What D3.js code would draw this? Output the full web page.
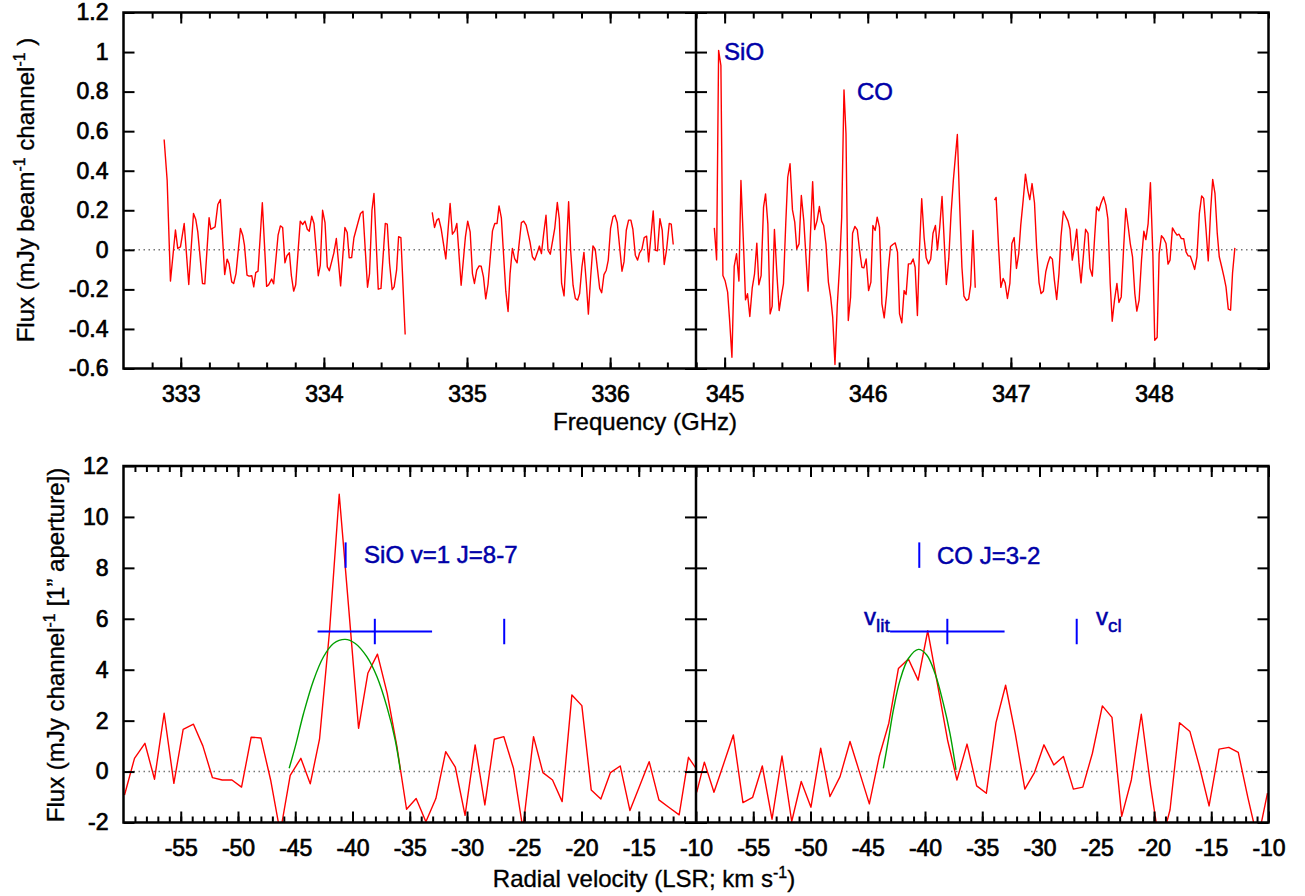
<!DOCTYPE html>
<html>
<head>
<meta charset="utf-8">
<script src="https://cdn.jsdelivr.net/npm/d3@7"></script>
<style>
  body { margin: 0; background: #fff; }
  svg { font-family: "Liberation Sans", Arial, Helvetica, sans-serif; }
  .axes line { stroke: #000; stroke-width: 2; }
  .axes text { font-size: 23px; fill: #000; stroke: #000; stroke-width: 0.7px; }
  .title { font-size: 24px; fill: #000; stroke: #000; stroke-width: 0.35px; }
  .note { font-size: 24px; fill: #0000a8; stroke: #0000a8; stroke-width: 0.5px; }
</style>
</head>
<body>
<div id="chart"></div>
<script>
// ---- top panel: spectrum, left sideband (GHz, mJy/beam/channel)
const freqA = [332.884,332.905,332.928,332.963,332.979,332.998,333.024,333.056,333.089,333.105,
  333.119,333.152,333.168,333.198,333.210,333.240,333.259,333.277,333.307,333.324,
  333.338,333.356,333.370,333.386,333.417,333.433,333.445,333.463,333.477,333.496,
  333.510,333.524,333.540,333.570,333.600,333.614,333.635,333.649,333.680,333.696,
  333.712,333.728,333.742,333.759,333.773,333.789,333.803,333.835,333.852,333.868,
  333.884,333.898,333.915,333.931,333.961,333.975,333.991,334.008,334.024,334.038,
  334.054,334.070,334.087,334.117,334.147,334.163,334.177,334.194,334.210,334.240,
  334.256,334.273,334.305,334.319,334.336,334.350,334.380,334.399,334.429,334.443,
  334.459,334.477,334.491,334.508,334.522,334.538,334.568];
const fluxA = [0.558,0.352,-0.158,0.10,0.007,0.015,0.133,-0.175,0.184,0.153,
  0.091,-0.170,-0.172,0.163,0.104,0.116,0.229,0.254,-0.125,-0.047,
  -0.072,-0.162,-0.170,-0.120,0.108,0.074,0.024,-0.128,-0.133,-0.131,
  -0.187,-0.115,-0.108,0.238,-0.185,-0.177,-0.148,-0.172,0.074,0.121,
  0.113,-0.066,-0.030,-0.015,-0.131,-0.209,-0.177,0.145,0.128,0.145,
  0.104,0.094,0.170,0.133,-0.131,-0.078,0.200,0.137,-0.086,-0.106,
  -0.061,-0.015,0.057,-0.182,0.113,0.088,-0.040,-0.039,0.061,0.142,
  0.184,0.195,-0.189,-0.120,0.200,0.285,-0.199,-0.195,0.133,0.130,
  -0.069,-0.201,-0.187,-0.103,0.066,0.062,-0.428];

const freqB = [334.757,334.773,334.789,334.803,334.819,334.852,334.882,334.898,334.915,334.929,
  334.959,334.989,335.005,335.022,335.038,335.052,335.068,335.085,335.099,335.115,
  335.131,335.147,335.178,335.194,335.210,335.224,335.240,335.271,335.287,335.301,
  335.317,335.333,335.350,335.380,335.396,335.413,335.440,335.457,335.473,335.489,
  335.506,335.520,335.536,335.552,335.566,335.582,335.599,335.613,335.631,335.645,
  335.661,335.678,335.692,335.710,335.724,335.741,335.757,335.773,335.787,335.803,
  335.817,335.834,335.848,335.864,335.880,335.896,335.927,335.941,335.957,335.973,
  335.987,336.003,336.020,336.034,336.050,336.083,336.097,336.113,336.129,336.145,
  336.159,336.176,336.192,336.206,336.222,336.238,336.255,336.269,336.301,336.317,
  336.331,336.348,336.364,336.378,336.394,336.413,336.427,336.441];
const fluxB = [0.189,0.113,0.150,0.158,0.108,-0.046,0.234,0.079,0.096,0.133,
  -0.179,0.066,0.145,0.091,-0.120,-0.170,-0.103,-0.081,-0.083,-0.137,
  -0.248,-0.174,0.096,0.133,0.133,0.222,0.162,-0.209,-0.312,-0.120,
  0.007,-0.044,-0.066,0.138,0.145,0.125,0.040,-0.035,-0.052,-0.019,
  0.019,-0.019,0.083,0.175,-0.002,-0.022,0.049,0.108,0.239,0.155,
  -0.170,-0.233,-0.035,0.243,-0.002,-0.179,-0.246,-0.254,-0.221,-0.086,
  -0.013,-0.170,-0.325,-0.137,0.020,0.002,-0.195,-0.217,-0.125,-0.103,
  -0.052,0.108,0.167,0.175,0.137,-0.108,-0.061,0.099,0.150,0.150,
  0.104,-0.027,-0.052,-0.015,0.002,0.062,0.069,-0.061,0.197,-0.002,
  -0.005,0.158,0.099,-0.074,-0.002,0.133,0.130,0.027];

// ---- top panel: right sideband with the SiO and CO lines
const freqC = [344.928,344.944,344.958,344.974,344.988,345.004,345.021,345.035,345.051,345.067,
  345.083,345.100,345.114,345.130,345.146,345.160,345.176,345.193,345.209,345.225,
  345.239,345.255,345.272,345.286,345.302,345.318,345.332,345.348,345.365,345.381,
  345.395,345.411,345.427,345.441,345.457,345.474,345.490,345.504,345.520,345.536,
  345.553,345.583,345.615,345.629,345.646,345.662,345.678,345.692,345.708,345.725,
  345.741,345.755,345.771,345.787,345.804,345.818,345.834,345.848,345.864,345.880,
  345.894,345.910,345.927,345.943,345.959,345.973,345.989,346.006,346.022,346.036,
  346.052,346.066,346.082,346.099,346.115,346.131,346.143,346.159,346.175,346.192,
  346.208,346.222,346.238,346.254,346.268,346.284,346.301,346.317,346.331,346.347,
  346.361,346.377,346.394,346.408,346.424,346.440,346.456,346.473,346.487,346.503,
  346.519,346.549,346.566,346.582,346.598,346.614,346.626,346.642,346.658,346.672,
  346.689,346.705,346.719,346.735,346.751];
const fluxC = [0.111,-0.051,1.008,0.932,-0.130,-0.158,-0.214,-0.357,-0.543,-0.084,
  -0.020,-0.158,0.351,0.064,-0.253,-0.222,-0.337,-0.192,-0.121,0.034,
  -0.177,-0.130,0.216,0.283,0.131,-0.324,-0.286,0.103,-0.121,-0.307,
  -0.239,-0.172,0.131,0.367,0.435,0.202,0.140,0.005,0.030,0.275,
  0.148,-0.209,0.345,0.103,0.148,0.219,0.145,0.123,0.030,-0.163,
  -0.239,-0.340,-0.580,-0.281,-0.071,0.165,0.809,0.586,-0.357,-0.239,
  0.084,0.118,0.101,-0.003,-0.088,-0.091,-0.046,-0.206,-0.163,0.123,
  0.098,0.165,0.115,-0.273,-0.344,-0.231,-0.104,0.017,0.027,0.035,
  -0.012,-0.324,-0.369,-0.206,-0.226,-0.071,-0.071,-0.046,-0.088,-0.332,
  -0.003,0.258,0.061,-0.040,-0.071,-0.046,0.084,0.123,0.000,0.115,
  0.270,-0.175,-0.046,0.182,0.351,0.485,0.583,0.233,-0.088,-0.234,
  -0.256,-0.248,-0.180,0.098,-0.192];

const freqD = [346.886,346.897,346.914,346.930,346.946,346.960,346.976,346.993,347.007,347.023,
  347.039,347.055,347.069,347.086,347.102,347.118,347.132,347.148,347.165,347.181,
  347.197,347.211,347.227,347.244,347.258,347.274,347.290,347.304,347.320,347.336,
  347.350,347.367,347.383,347.399,347.413,347.429,347.446,347.460,347.476,347.490,
  347.506,347.522,347.539,347.553,347.569,347.585,347.599,347.615,347.629,347.648,
  347.664,347.678,347.694,347.708,347.724,347.741,347.755,347.771,347.787,347.803,
  347.820,347.834,347.850,347.866,347.880,347.896,347.913,347.929,347.943,347.959,
  347.975,347.992,348.005,348.022,348.036,348.052,348.068,348.084,348.098,348.112,
  348.129,348.145,348.161,348.175,348.191,348.208,348.224,348.238,348.254,348.270,
  348.284,348.300,348.317,348.333,348.347,348.363,348.379,348.396,348.410,348.426,
  348.442,348.456,348.472,348.489,348.503,348.519,348.535,348.549,348.565];
const fluxD = [0.251,0.265,0.015,-0.190,-0.145,-0.167,-0.246,-0.170,0.032,0.062,
  -0.094,-0.019,0.125,0.251,0.383,0.302,0.254,0.335,0.238,-0.002,
  -0.167,-0.221,-0.209,-0.111,-0.069,-0.035,-0.047,-0.153,-0.251,-0.120,
  0.066,0.195,0.170,0.145,0.104,-0.052,0.024,0.104,-0.066,-0.167,
  -0.035,0.104,0.083,-0.094,-0.133,0.061,0.217,0.197,0.234,0.268,
  0.226,0.155,-0.170,-0.361,-0.254,-0.170,-0.266,-0.238,-0.002,0.209,
  0.116,0.032,-0.035,-0.221,-0.310,-0.254,-0.049,0.094,0.052,0.133,
  0.340,-0.022,-0.457,-0.443,-0.019,0.071,0.057,0.032,-0.072,-0.052,
  0.111,0.091,0.074,0.079,0.057,0.056,-0.010,-0.030,-0.032,-0.066,
  -0.099,-0.035,0.184,0.273,0.260,0.108,-0.056,0.201,0.356,0.285,
  0.083,-0.035,-0.083,-0.137,-0.187,-0.300,-0.305,-0.115,0.010];

// ---- bottom panels: velocity spectra (km/s, mJy/channel)
const velSiO = [-59.91,-59.04,-58.13,-57.29,-56.45,-55.60,-54.79,-53.89,-53.07,-52.23,
  -51.38,-50.53,-49.69,-48.85,-48.00,-47.15,-46.31,-45.44,-44.51,-43.69,
  -42.88,-42.01,-41.16,-40.31,-39.47,-38.66,-37.82,-36.97,-36.12,-35.28,
  -34.44,-33.59,-32.72,-31.86,-31.02,-30.17,-29.29,-28.44,-27.62,-26.78,
  -25.94,-25.12,-24.19,-23.37,-22.53,-21.69,-20.84,-19.97,-19.15,-18.31,
  -17.47,-16.62,-15.77,-14.94,-14.09,-13.24,-12.38,-11.47,-10.66,-9.81];
const fluxSiO = [-0.92,0.52,1.11,-0.30,2.29,-0.46,1.66,1.86,1.01,-0.24,
  -0.33,-0.33,-0.61,1.35,1.32,-0.33,-2.4,-0.15,0.52,-0.48,
  1.27,5.49,10.89,6.3,1.70,3.86,4.61,3.07,0.98,-1.48,
  -1.06,-1.97,-1.06,0.78,0.17,-1.72,1.05,-1.31,1.27,1.37,
  0.13,-2.25,1.37,-0.04,-0.33,-1.18,3.01,2.59,-0.72,-1.08,
  -0.04,0.22,-1.53,-0.59,0.39,-1.11,-1.4,-1.70,0.56,0.0];

const velCO = [-59.94,-59.27,-58.43,-57.59,-56.74,-55.90,-55.05,-54.21,-53.36,-52.49,
  -51.64,-50.81,-49.96,-49.11,-48.30,-47.42,-46.55,-45.70,-44.86,-44.00,
  -43.16,-42.32,-41.45,-40.60,-39.76,-38.90,-38.03,-37.21,-36.33,-35.49,
  -34.64,-33.80,-32.96,-32.12,-31.28,-30.44,-29.61,-28.75,-27.91,-27.04,
  -26.22,-25.38,-24.51,-23.67,-22.82,-21.98,-21.11,-20.30,-19.47,-18.60,
  -17.77,-16.86,-16.03,-15.19,-14.32,-13.47,-12.64,-11.80,-10.94,-10.09];
const fluxCO = [-0.82,0.37,-0.81,0.30,1.44,-1.22,-1.01,0.22,-1.87,0.61,
  -1.96,-0.39,-1.40,0.92,-0.98,-0.20,1.18,-0.05,-1.27,0.59,
  1.90,4.05,4.42,3.59,5.53,3.40,1.24,-0.33,1.08,-0.56,
  -0.85,1.92,3.39,1.50,-0.69,-0.04,1.05,0.26,0.59,-0.69,
  -0.61,0.72,2.58,2.13,-1.76,-0.33,2.25,-0.55,-3.0,-1.50,
  1.92,1.57,0.20,-1.35,0.88,0.95,0.75,-1.02,-2.7,-0.85];

// fitted line profiles (green)
const fitSiOVel = [-45.53,-45.0,-44.27,-43.40,-42.53,-41.66,-40.64,-39.76,-38.75,-37.87,-37.0,-36.27,-35.83];
const fitSiOFlux = [0.13,0.98,2.29,3.59,4.51,5.03,5.19,5.03,4.51,3.73,2.55,1.24,0.07];
const fitCOVel = [-43.64,-43.2,-42.76,-42.18,-41.45,-40.58,-39.85,-39.13,-38.40,-37.82,-37.29];
const fitCOFlux = [0.13,1.24,2.42,3.59,4.44,4.80,4.58,3.86,2.68,1.50,0.07];

// velocity markers: line velocity, literature value (+/- range), cluster value
const lineVel = [-40.6, -40.5];
const vLit = [-38.05, 5.0];
const vCl = -26.75;

// tick values
const freqMajorL = [333, 334, 335, 336];
const freqMajorR = [345, 346, 347, 348];
const freqMinorL = d3.range(3328, 3367, 2).map(d => d / 10);
const freqMinorR = d3.range(3448, 3489, 2).map(d => d / 10);
const fluxTicks = [-0.6, -0.4, -0.2, 0, 0.2, 0.4, 0.6, 0.8, 1, 1.2];
const velMajor = [-55, -50, -45, -40, -35, -30, -25, -20, -15, -10];
const velMinor = d3.range(-59, -10, 1);
const velFluxTicks = [-2, 0, 2, 4, 6, 8, 10, 12];

const width = 1305, height = 896;
const left = 123.5, mid = 696, right = 1268.5;
const topY = [12.5, 368.5];
const botY = [466, 822.5];

const svg = d3.select("#chart").append("svg")
  .attr("width", width).attr("height", height);

const fxL = d3.scaleLinear().domain([332.6, 336.6]).range([left, mid]);
const fxR = d3.scaleLinear().domain([344.8, 348.8]).range([mid, right]);
const fy = d3.scaleLinear().domain([-0.6, 1.2]).range([topY[1], topY[0]]);
const vxL = d3.scaleLinear().domain([-60, -10]).range([left, mid]);
const vxR = d3.scaleLinear().domain([-60, -10]).range([mid, right]);
const vy = d3.scaleLinear().domain([-2, 12]).range([botY[1], botY[0]]);

const fmtFlux = d => String(+d.toFixed(1));
const fmtInt = d => String(d);

let clipCount = 0;
function clipFor(x, y) {
  const id = "clip" + (clipCount++);
  const [x0, x1] = x.range(), [y0, y1] = y.range();
  svg.append("clipPath").attr("id", id).append("rect")
    .attr("x", x0).attr("y", y1).attr("width", x1 - x0).attr("height", y0 - y1);
  return "url(#" + id + ")";
}

function zeroLine(x, y) {
  svg.append("line")
    .attr("x1", x.range()[0]).attr("x2", x.range()[1])
    .attr("y1", y(0)).attr("y2", y(0))
    .attr("stroke", "#777").attr("stroke-width", 1.5)
    .attr("stroke-dasharray", "1.5,3.5");
}

function trace(x, y, xs, ys, color, clip, curve) {
  const pts = xs.map((v, i) => [v, ys[i]]);
  const line = d3.line().x(d => x(d[0])).y(d => y(d[1]));
  if (curve) line.curve(curve);
  svg.append("path").datum(pts)
    .attr("clip-path", clip)
    .attr("fill", "none").attr("stroke", color)
    .attr("stroke-width", 1.4).attr("stroke-linejoin", "round")
    .attr("d", line);
}

function axes(x, y, o) {
  const g = svg.append("g").attr("class", "axes");
  const [yb, yt] = y.range();
  const [x0, x1] = x.range();
  const put = (axis, tx, ty) => {
    const a = g.append("g").attr("transform", `translate(${tx},${ty})`).call(axis);
    a.select(".domain").remove();
    a.attr("font-size", null).attr("font-family", null);
  };
  put(d3.axisBottom(x).tickValues(o.xMinor).tickSize(-6).tickFormat(""), 0, yb);
  put(d3.axisTop(x).tickValues(o.xMinor).tickSize(-6).tickFormat(""), 0, yt);
  put(d3.axisBottom(x).tickValues(o.xMajor).tickSize(-11).tickPadding(17).tickFormat(o.xFmt), 0, yb);
  put(d3.axisTop(x).tickValues(o.xMajor).tickSize(-11).tickFormat(""), 0, yt);
  put(d3.axisLeft(y).tickValues(o.yTicks).tickSize(-11).tickPadding(15).tickFormat(o.yFmt), x0, 0);
  put(d3.axisRight(y).tickValues(o.yTicks).tickSize(-11).tickFormat(""), x1, 0);
}

// ---------- top panel
const clipTL = clipFor(fxL, fy), clipTR = clipFor(fxR, fy);
zeroLine(fxL, fy);
zeroLine(fxR, fy);
trace(fxL, fy, freqA, fluxA, "#ff0000", clipTL);
trace(fxL, fy, freqB, fluxB, "#ff0000", clipTL);
trace(fxR, fy, freqC, fluxC, "#ff0000", clipTR);
trace(fxR, fy, freqD, fluxD, "#ff0000", clipTR);

svg.append("text").attr("class", "note")
  .attr("x", fxR(344.996)).attr("y", fy(0.96)).text("SiO");
svg.append("text").attr("class", "note")
  .attr("x", fxR(345.925)).attr("y", fy(0.758)).text("CO");

axes(fxL, fy, { xMajor: freqMajorL, xMinor: freqMinorL, xFmt: fmtInt, yTicks: fluxTicks, yFmt: fmtFlux });
axes(fxR, fy, { xMajor: freqMajorR, xMinor: freqMinorR, xFmt: fmtInt, yTicks: fluxTicks, yFmt: "" });

// ---------- bottom panels
const clipBL = clipFor(vxL, vy), clipBR = clipFor(vxR, vy);
zeroLine(vxL, vy);
zeroLine(vxR, vy);
trace(vxL, vy, velSiO, fluxSiO, "#ff0000", clipBL);
trace(vxR, vy, velCO, fluxCO, "#ff0000", clipBR);
trace(vxL, vy, fitSiOVel, fitSiOFlux, "#00a000", clipBL, d3.curveCatmullRom);
trace(vxR, vy, fitCOVel, fitCOFlux, "#00a000", clipBR, d3.curveCatmullRom);

function markers(x, lv) {
  const g = svg.append("g").attr("stroke", "#0000ff").attr("stroke-width", 2);
  g.append("line").attr("x1", x(lv)).attr("x2", x(lv)).attr("y1", vy(8)).attr("y2", vy(9));
  g.append("line").attr("x1", x(vLit[0] - vLit[1])).attr("x2", x(vLit[0] + vLit[1]))
    .attr("y1", vy(5.5)).attr("y2", vy(5.5));
  g.append("line").attr("x1", x(vLit[0])).attr("x2", x(vLit[0])).attr("y1", vy(5)).attr("y2", vy(6));
  g.append("line").attr("x1", x(vCl)).attr("x2", x(vCl)).attr("y1", vy(5)).attr("y2", vy(6));
}
markers(vxL, lineVel[0]);
markers(vxR, lineVel[1]);

svg.append("text").attr("class", "note")
  .attr("x", vxL(-38.99)).attr("y", vy(8.19)).text("SiO v=1 J=8-7");
svg.append("text").attr("class", "note")
  .attr("x", vxR(-38.95)).attr("y", vy(8.15)).text("CO J=3-2");

const lit = svg.append("text").attr("class", "note")
  .attr("x", vxR(-45.33)).attr("y", vy(5.76)).text("v");
lit.append("tspan").attr("dy", 7).style("font-size", "19px").text("lit");
const cl = svg.append("text").attr("class", "note")
  .attr("x", vxR(-25.07)).attr("y", vy(5.76)).text("v");
cl.append("tspan").attr("dy", 7).style("font-size", "19px").text("cl");

axes(vxL, vy, { xMajor: velMajor, xMinor: velMinor, xFmt: fmtInt, yTicks: velFluxTicks, yFmt: fmtInt });
axes(vxR, vy, { xMajor: velMajor, xMinor: velMinor, xFmt: fmtInt, yTicks: velFluxTicks, yFmt: "" });

// frames
[topY, botY].forEach(([t, b]) => {
  svg.append("rect").attr("x", left).attr("y", t)
    .attr("width", right - left).attr("height", b - t)
    .attr("fill", "none").attr("stroke", "#000").attr("stroke-width", 2.5);
  svg.append("line").attr("x1", mid).attr("x2", mid).attr("y1", t).attr("y2", b)
    .attr("stroke", "#000").attr("stroke-width", 2.5);
});

// axis titles
svg.append("text").attr("class", "title").attr("text-anchor", "middle")
  .attr("x", 645).attr("y", 430).text("Frequency (GHz)");

const xt = svg.append("text").attr("class", "title").attr("text-anchor", "middle")
  .attr("x", 644).attr("y", 887).text("Radial velocity (LSR; km s");
xt.append("tspan").attr("dy", -9).style("font-size", "16px").text("-1");
xt.append("tspan").attr("dy", 9).text(")");

const yt1 = svg.append("text").attr("class", "title").attr("text-anchor", "middle")
  .attr("transform", "translate(34,190) rotate(-90)").text("Flux (mJy beam");
yt1.append("tspan").attr("dy", -9).style("font-size", "16px").text("-1");
yt1.append("tspan").attr("dy", 9).text(" channel");
yt1.append("tspan").attr("dy", -9).style("font-size", "16px").text("-1");
yt1.append("tspan").attr("dy", 9).text(" )");

const yt2 = svg.append("text").attr("class", "title").attr("text-anchor", "middle")
  .attr("transform", "translate(64,645) rotate(-90)").text("Flux (mJy channel");
yt2.append("tspan").attr("dy", -9).style("font-size", "16px").text("-1");
yt2.append("tspan").attr("dy", 9).text(" [1\u201D aperture])");
</script>
</body>
</html>
